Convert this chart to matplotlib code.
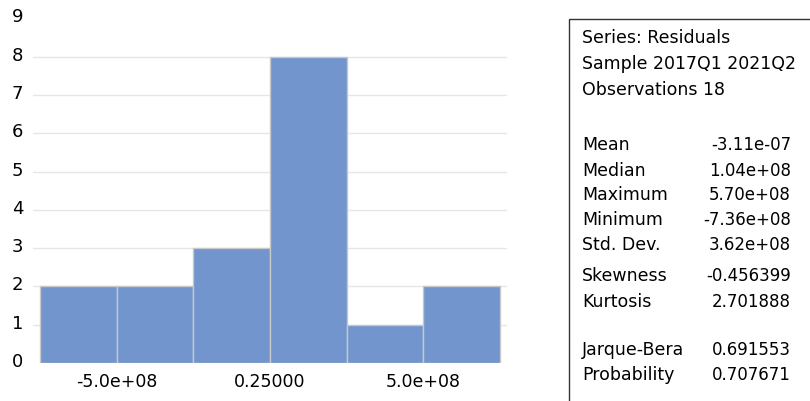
import matplotlib
matplotlib.use("Agg")
import matplotlib.pyplot as plt
from matplotlib.patches import Rectangle
from matplotlib.transforms import ScaledTranslation
import numpy as np

plt.rcParams['font.family'] = ['DejaVu Sans']

bin_edges = [-7.5e8, -5.0e8, -2.5e8, 0.0, 2.5e8, 5.0e8, 7.5e8]
counts = [2, 2, 3, 8, 1, 2]
xtick_pos = [-5.0e8, 0.0, 5.0e8]
xtick_labels = ["-5.0e+08", "0.25000", "5.0e+08"]
yticks = list(range(0, 10))

header_lines = ["Series: Residuals", "Sample 2017Q1 2021Q2", "Observations 18"]
stat_names = ["Mean", "Median", "Maximum", "Minimum", "Std. Dev.", "Skewness", "Kurtosis",
              "Jarque-Bera", "Probability"]
stat_values = ["-3.11e-07", "1.04e+08", "5.70e+08", "-7.36e+08", "3.62e+08", "-0.456399",
               "2.701888", "0.691553", "0.707671"]

W, H = 810, 401
fig = plt.figure(figsize=(W / 100, H / 100), dpi=100)
ax = fig.add_axes([33 / W, (H - 363) / H, 474 / W, 344.7 / H])

lefts = np.array(bin_edges[:-1])
widths = np.diff(bin_edges)
ax.bar(lefts, counts, width=widths, align='edge', color='#7295cd',
       edgecolor='#c8c8c8', linewidth=1.0, zorder=2)

span = bin_edges[-1] - bin_edges[0]
pad = span * 7 / 460.7
ax.set_xlim(bin_edges[0] - pad, bin_edges[-1] + pad)
ax.set_ylim(0, 9)
for y in yticks[1:-1]:
    ax.axhline(y, color='#e6e6e6', linewidth=1.0, zorder=1)
for s in ax.spines.values():
    s.set_visible(False)
ax.set_xticks(xtick_pos)
ax.set_xticklabels(xtick_labels, fontsize=12.5)
ax.set_yticks(yticks)
ax.set_yticklabels([str(v) for v in yticks], fontsize=13)
ax.tick_params(axis='both', length=0, colors='#000000')
ax.tick_params(axis='x', pad=7)
ax.tick_params(axis='y', pad=7)
for lab in ax.get_yticklabels():
    lab.set_transform(lab.get_transform() + ScaledTranslation(0, 3 / 100, fig.dpi_scale_trans))

# stats box
rect = Rectangle((569 / W, -0.1), 0.5, (H - 19) / H + 0.1, transform=fig.transFigure,
                 fill=False, edgecolor='#333333', linewidth=1.0, clip_on=False)
fig.patches.append(rect)

header_y = [38, 64, 90]
for t, yy in zip(header_lines, header_y):
    fig.text(582 / W, 1 - yy / H, t, fontsize=12.5, va='center', ha='left')
stat_y = [145, 171, 195, 220, 245, 276, 302, 350, 375]
for n, v, yy in zip(stat_names, stat_values, stat_y):
    fig.text(582 / W, 1 - yy / H, n, fontsize=12.5, va='center', ha='left')
    fig.text(791 / W, 1 - yy / H, v, fontsize=12, va='center', ha='right')

fig.savefig("out.png", dpi=100)
